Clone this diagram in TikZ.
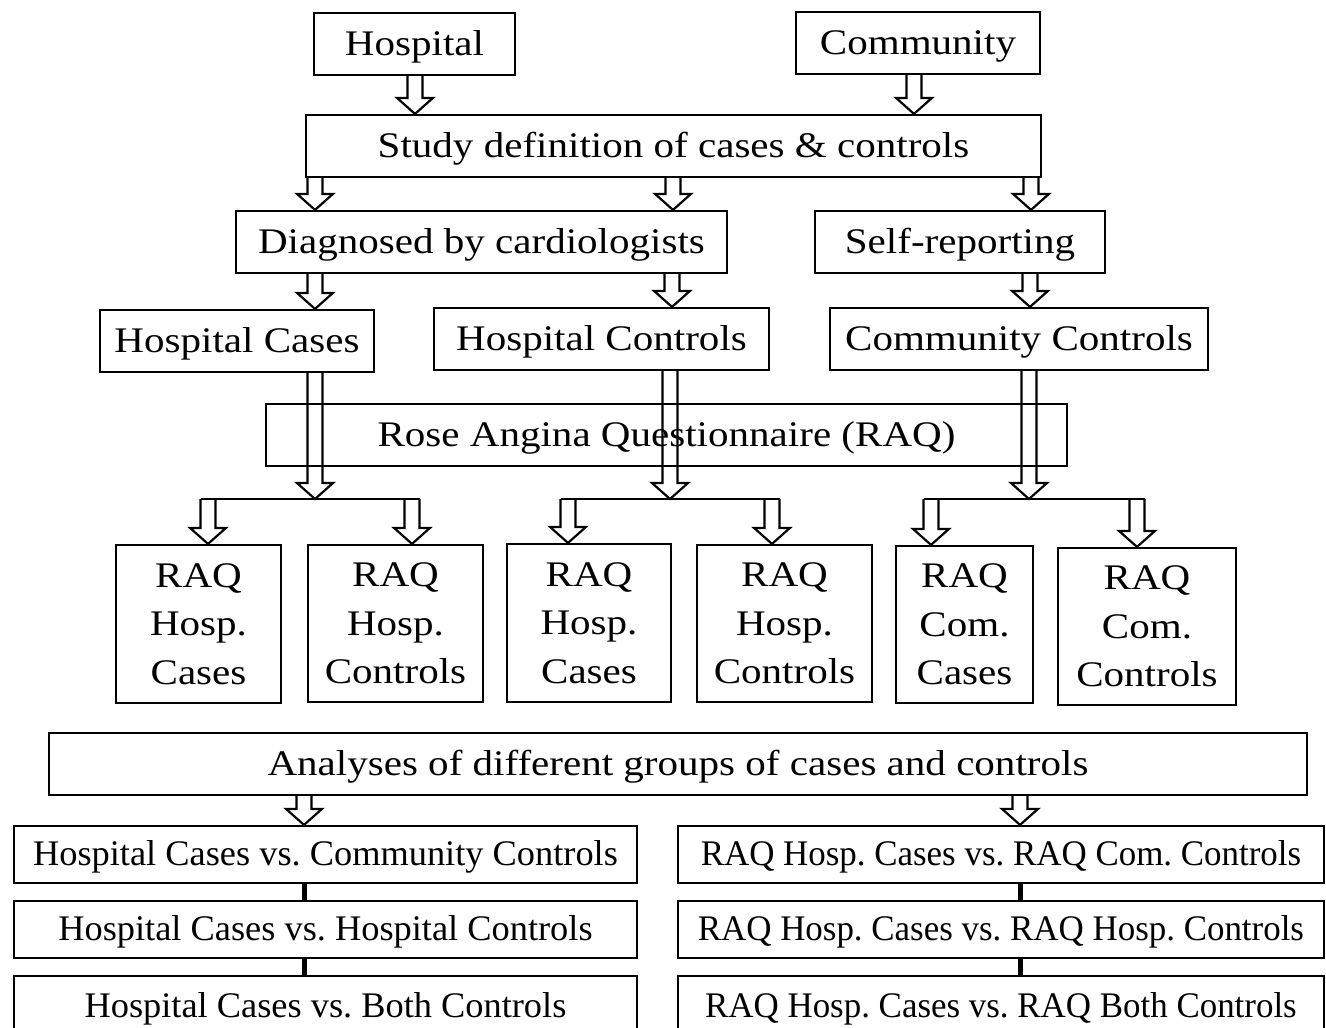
\documentclass[tikz,border=0pt]{standalone}
\usepackage{fontspec}
\setmainfont{Liberation Serif}
\newfontfamily\widefont[FakeStretch=1.14]{Liberation Serif}
\newfontfamily\midfont[FakeStretch=1.01]{Liberation Serif}
\newfontfamily\narrowfont[FakeStretch=0.97]{Liberation Serif}
\frenchspacing
\usetikzlibrary{calc}
\tikzset{
  box/.style={draw, line width=2.2pt, inner sep=0pt, text height=22pt, text depth=0pt, font=\widefont\fontsize{36}{48}\selectfont},
  mbox/.style={draw, line width=2.2pt, inner sep=0pt, align=center, font=\widefont\fontsize{36}{48.5}\selectfont},
  lbox/.style={box, font=\midfont\fontsize{36}{48}\selectfont},
  rbox/.style={box, font=\narrowfont\fontsize{36}{48}\selectfont},
  arrline/.style={draw, line width=2.2pt, line join=miter},
  linker/.style={line width=5pt},
}
\newcommand\bx[7][box]{\node[#1, minimum width={#5-#3}, minimum height={#6-#4}] (#2) at ({(#3+#5)/2},{-(#4+#6)/2}) {#7};}
\newcommand\barr[3]{\draw[arrline] let \p1=#2, \p2=#3 in
  ({(#1-7.5)*1pt},\y1) -- ({(#1-7.5)*1pt},{\y2+16pt}) -- ({(#1-18)*1pt},{\y2+16pt}) -- ({#1*1pt},\y2)
  -- ({(#1+18)*1pt},{\y2+16pt}) -- ({(#1+7.5)*1pt},{\y2+16pt}) -- ({(#1+7.5)*1pt},\y1);}
\begin{document}
\begin{tikzpicture}[x=1pt,y=1pt]
\useasboundingbox (0,0) rectangle (1326,-1028);
\bx{hosp}{314}{13}{515}{75}{Hospital}
\bx{comm}{796}{12}{1040}{74}{Community}
\bx{study}{306}{115}{1041}{177}{Study definition of cases \& controls}
\bx{diag}{236}{211}{727}{273}{Diagnosed by cardiologists}
\bx{self}{815}{211}{1105}{273}{Self-reporting}
\bx{hcases}{100}{310}{374}{372}{Hospital Cases}
\bx{hcontrols}{434}{308}{769}{370}{Hospital Controls}
\bx{ccontrols}{830}{308}{1208}{370}{Community Controls}
\bx{raq}{266}{404}{1067}{466}{Rose Angina Questionnaire (RAQ)}
\bx[mbox]{r1}{116}{545}{281}{703}{RAQ\\Hosp.\\Cases}
\bx[mbox]{r2}{308}{545}{483}{702}{RAQ\\Hosp.\\Controls}
\bx[mbox]{r3}{507}{544}{671}{702}{RAQ\\Hosp.\\Cases}
\bx[mbox]{r4}{697}{545}{872}{702}{RAQ\\Hosp.\\Controls}
\bx[mbox]{r5}{896}{546}{1033}{703}{RAQ\\Com.\\Cases}
\bx[mbox]{r6}{1058}{548}{1236}{705}{RAQ\\Com.\\Controls}
\bx{anal}{49}{733}{1307}{795}{Analyses of different groups of cases and controls}
\bx[lbox]{l1}{14}{826}{637}{883}{Hospital Cases vs. Community Controls}
\bx[lbox]{l2}{14}{901}{637}{958}{Hospital Cases vs. Hospital Controls}
\bx[lbox]{l3}{14}{976}{637}{1036}{Hospital Cases vs. Both Controls}
\bx[rbox]{q1}{678}{826}{1324}{883}{RAQ Hosp. Cases vs. RAQ Com. Controls}
\bx[rbox]{q2}{678}{901}{1324}{958}{RAQ Hosp. Cases vs. RAQ Hosp. Controls}
\bx[rbox]{q3}{678}{976}{1324}{1036}{RAQ Hosp. Cases vs. RAQ Both Controls}
% branch points
\coordinate (bl) at (315,-499);
\coordinate (bm) at (670,-499);
\coordinate (br) at (1029,-499);
% top arrows
\barr{415}{(hosp.south)}{(study.north)}
\barr{914}{(comm.south)}{(study.north)}
\barr{315}{(study.south)}{(diag.north)}
\barr{673}{(study.south)}{(diag.north)}
\barr{1031}{(study.south)}{(self.north)}
\barr{315}{(diag.south)}{(hcases.north)}
\barr{672}{(diag.south)}{(hcontrols.north)}
\barr{1030}{(self.south)}{(ccontrols.north)}
% through RAQ
\barr{315}{(hcases.south)}{(bl)}
\barr{670}{(hcontrols.south)}{(bm)}
\barr{1029}{(ccontrols.south)}{(br)}
% branches
\draw[arrline] ($(bl)+(-114.5,0)$) -- ($(bl)+(104.5,0)$);
\draw[arrline] ($(bm)+(-109.5,0)$) -- ($(bm)+(109.5,0)$);
\draw[arrline] ($(br)+(-105.5,0)$) -- ($(br)+(115.5,0)$);
\barr{208}{(bl)}{(r1.north)}
\barr{412}{(bl)}{(r2.north)}
\barr{568}{(bm)}{(r3.north)}
\barr{772}{(bm)}{(r4.north)}
\barr{931}{(br)}{(r5.north)}
\barr{1137}{(br)}{(r6.north)}
% analyses
\barr{304}{(anal.south)}{(l1.north)}
\barr{1020}{(anal.south)}{(q1.north)}
\draw[linker] (l1.south -| 304,0) -- (l2.north -| 304,0);
\draw[linker] (l2.south -| 304,0) -- (l3.north -| 304,0);
\draw[linker] (q1.south -| 1020,0) -- (q2.north -| 1020,0);
\draw[linker] (q2.south -| 1020,0) -- (q3.north -| 1020,0);
\end{tikzpicture}
\end{document}
